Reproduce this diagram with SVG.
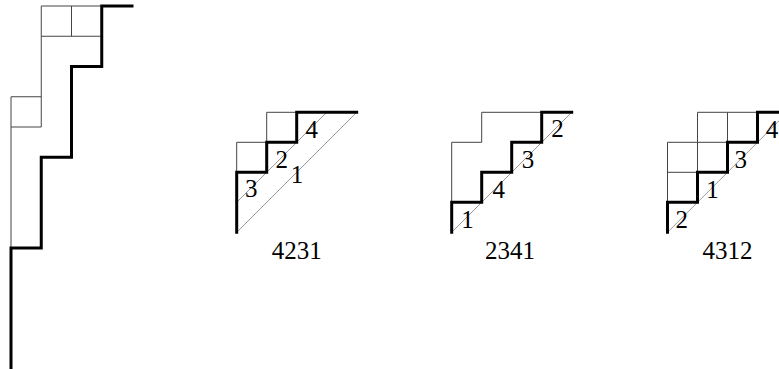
<svg xmlns="http://www.w3.org/2000/svg" width="779" height="369" viewBox="0 0 779 369">
<style>
.thin{fill:none;stroke:#444;stroke-width:1}
.thick{fill:none;stroke:#000;stroke-width:3;stroke-linejoin:miter;stroke-linecap:square}
.diag{fill:none;stroke:#999;stroke-width:1}
text{font-family:"Liberation Serif","Times New Roman",serif;font-size:25px;fill:#000;text-anchor:middle}
</style>
<rect width="779" height="369" fill="#fff"/>
<g id="big-path">
<path class="thin" d="M101.75,6 H41.25 V127 H11 M11,96.75 V248 M11,96.75 H41.25 M41.25,36.25 H101.75 M71.5,6 V36.25"/>
<path class="thick" d="M132,6 H101.75 V66.5 H71.5 V157.25 H41.25 V248 H11 V372"/>
</g>
<g id="fig-4231">
<path class="diag" d="M236.7,232.3 L356.7,112.3 M236.7,202.3 L326.7,112.3"/>
<path class="thin" d="M236.7,172.3 V142.3 H266.7 V112.3 H296.7"/>
<path class="thick" d="M236.7,232.3 V172.3 H266.7 V142.3 H296.7 V112.3 H356.7"/>
<text x="251.3" y="197.3">3</text>
<text x="281.7" y="168.3">2</text>
<text x="311.7" y="138.3">4</text>
<text x="297" y="183.3">1</text>
<text x="296.7" y="259.3">4231</text>
</g>
<g id="fig-2341">
<path class="diag" d="M451.7,232.3 L571.7,112.3"/>
<path class="thin" d="M451.7,202.3 V142.3 H481.7 V112.3 H541.7"/>
<path class="thick" d="M451.7,232.3 V202.3 H481.7 V172.3 H511.7 V142.3 H541.7 V112.3 H571.7"/>
<text x="467.5" y="228">1</text>
<text x="498.8" y="198">4</text>
<text x="528" y="168">3</text>
<text x="557.5" y="137">2</text>
<text x="510" y="259.3">2341</text>
</g>
<g id="fig-4312">
<path class="diag" d="M667.5,232.3 L787.5,112.3"/>
<path class="thin" d="M667.5,202.3 V142.3 H697.5 V112.3 H757.5 M697.5,142.3 H727.5 V112.3 M667.5,172.3 H697.5 M697.5,172.3 V142.3"/>
<path class="thick" d="M667.5,232.3 V202.3 H697.5 V172.3 H727.5 V142.3 H757.5 V112.3 H787.5"/>
<text x="681.7" y="228.3">2</text>
<text x="712.5" y="197.7">1</text>
<text x="740.8" y="168.3">3</text>
<text x="772" y="138.3">4</text>
<text x="727.5" y="259.3">4312</text>
</g>
<g id="connectors"></g>
</svg>
